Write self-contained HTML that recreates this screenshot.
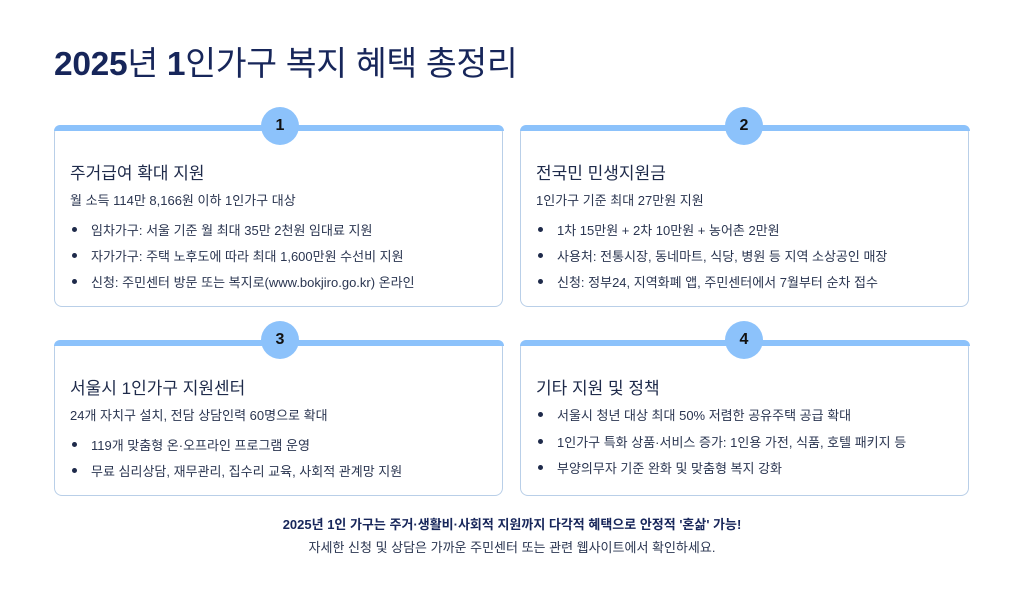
<!DOCTYPE html>
<html><head><meta charset="utf-8"><style>
body{margin:0;width:1024px;height:591px;background:#fff;position:relative;overflow:hidden;font-family:"Liberation Sans","Noto Sans CJK KR",sans-serif;color:#1e2a4a}
.t{position:absolute;white-space:nowrap}
.card{position:absolute;width:449px;border:1.5px solid #b9cfe8;border-top:none;border-radius:8px;box-sizing:border-box;background:#fff}
.card:before{content:"";position:absolute;left:-1.5px;right:-1.5px;top:0;height:6px;background:#8cc2fb;border-radius:6px 6px 0 0}
.c{position:absolute;width:38px;height:38px;border-radius:50%;background:#8cc2fb;color:#111;font-weight:bold;font-size:16px;text-align:center;line-height:38px}
.h{font-size:17px;color:#1e2a4a}
.s{font-size:13px;color:#2a3550}
.b{font-size:13px;color:#2a3550}
.b:before{content:"";position:absolute;left:-19px;top:7px;width:5px;height:5px;border-radius:50%;background:#1e2a4a}
</style></head><body>
<div class="t" style="left:54px;top:36px;font-size:33.5px;color:#17265a;letter-spacing:-0.3px"><b>2025</b>년 <b>1</b>인가구 복지 혜택 총정리</div>

<div class="card" style="left:54px;top:125px;height:182px"></div>
<div class="card" style="left:520px;top:125px;height:182px"></div>
<div class="card" style="left:54px;top:340px;height:156px"></div>
<div class="card" style="left:520px;top:340px;height:156px"></div>
<div class="c" style="left:261px;top:107px">1</div>
<div class="c" style="left:725px;top:107px">2</div>
<div class="c" style="left:261px;top:321px">3</div>
<div class="c" style="left:725px;top:321px">4</div>

<div class="t h" style="left:70px;top:159px">주거급여 확대 지원</div>
<div class="t s" style="left:70px;top:190px">월 소득 114만 8,166원 이하 1인가구 대상</div>
<div class="t b" style="left:91px;top:220px">임차가구: 서울 기준 월 최대 35만 2천원 임대료 지원</div>
<div class="t b" style="left:91px;top:246px">자가가구: 주택 노후도에 따라 최대 1,600만원 수선비 지원</div>
<div class="t b" style="left:91px;top:272px">신청: 주민센터 방문 또는 복지로(www.bokjiro.go.kr) 온라인</div>

<div class="t h" style="left:536px;top:159px">전국민 민생지원금</div>
<div class="t s" style="left:536px;top:190px">1인가구 기준 최대 27만원 지원</div>
<div class="t b" style="left:557px;top:220px">1차 15만원 + 2차 10만원 + 농어촌 2만원</div>
<div class="t b" style="left:557px;top:246px">사용처: 전통시장, 동네마트, 식당, 병원 등 지역 소상공인 매장</div>
<div class="t b" style="left:557px;top:272px">신청: 정부24, 지역화폐 앱, 주민센터에서 7월부터 순차 접수</div>

<div class="t h" style="left:70px;top:374px">서울시 1인가구 지원센터</div>
<div class="t s" style="left:70px;top:405px">24개 자치구 설치, 전담 상담인력 60명으로 확대</div>
<div class="t b" style="left:91px;top:435px">119개 맞춤형 온·오프라인 프로그램 운영</div>
<div class="t b" style="left:91px;top:461px">무료 심리상담, 재무관리, 집수리 교육, 사회적 관계망 지원</div>

<div class="t h" style="left:536px;top:374px">기타 지원 및 정책</div>
<div class="t b" style="left:557px;top:405px">서울시 청년 대상 최대 50% 저렴한 공유주택 공급 확대</div>
<div class="t b" style="left:557px;top:432px">1인가구 특화 상품·서비스 증가: 1인용 가전, 식품, 호텔 패키지 등</div>
<div class="t b" style="left:557px;top:458px">부양의무자 기준 완화 및 맞춤형 복지 강화</div>

<div class="t" style="left:0;width:1024px;text-align:center;top:514px;font-size:13px;font-weight:bold;color:#17265a">2025년 1인 가구는 주거·생활비·사회적 지원까지 다각적 혜택으로 안정적 '혼삶' 가능!</div>
<div class="t" style="left:0;width:1024px;text-align:center;top:537px;font-size:13px;color:#2a3550">자세한 신청 및 상담은 가까운 주민센터 또는 관련 웹사이트에서 확인하세요.</div>
</body></html>
